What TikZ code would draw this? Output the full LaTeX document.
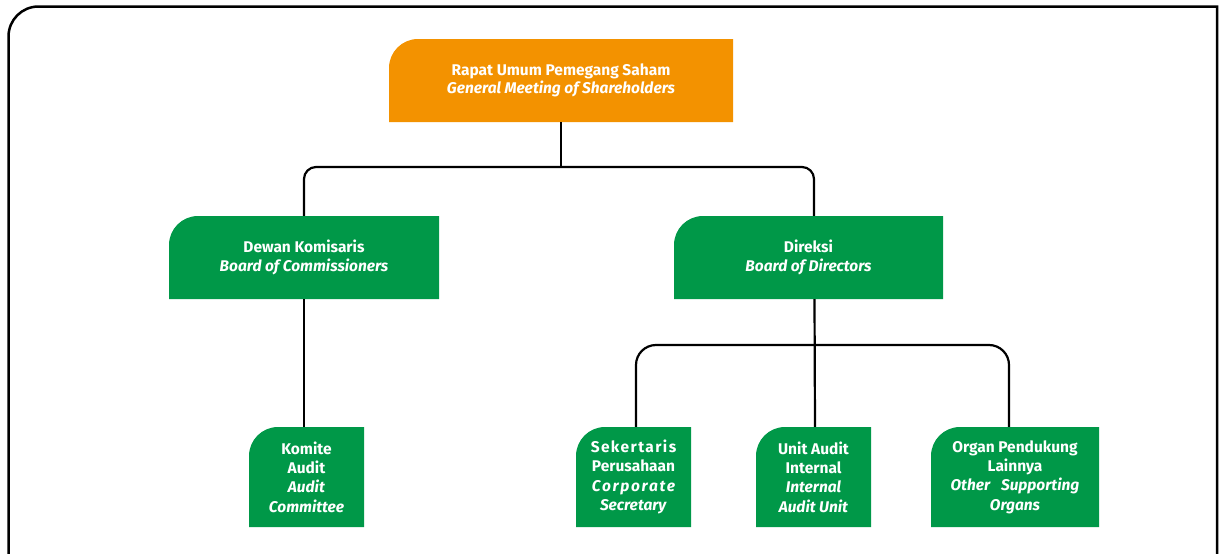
\documentclass[tikz,border=0pt]{standalone}
\usepackage{fontspec}
\setmainfont{Fira Sans}

\definecolor{rupsorange}{RGB}{243,146,0}
\definecolor{orggreen}{RGB}{0,152,72}

\tikzset{
    % fill with only the upper left corner rounded
    cornerfill/.style={path picture={
        \fill[#1] (path picture bounding box.north east)
            -- (path picture bounding box.south east)
            -- (path picture bounding box.south west) [rounded corners=29pt]
            |- (path picture bounding box.north east);}},
    orgbox/.style={inner sep=0pt, align=center, text=white,
        font=\bfseries\fontsize{15.5}{18.5}\selectfont},
    gmsbox/.style={orgbox, cornerfill=rupsorange, minimum height=83pt},
    boardbox/.style={orgbox, cornerfill=orggreen, minimum height=83pt},
    unitbox/.style={orgbox, cornerfill=orggreen, minimum height=100pt,
        font=\bfseries\fontsize{15.5}{19.3}\selectfont},
    link/.style={line width=2.2pt, black},
}

\begin{document}
\begin{tikzpicture}[x=1pt, y=-1pt]
    \useasboundingbox (0,0) rectangle (1219,554);

    % Bingkai
    \draw[line width=2.5pt] (1217,554) -- (1217,6.5) [rounded corners=30pt]
        -| (8.5,554);

    % RUPS
    \node[gmsbox, minimum width=344pt] (gms) at (561,80.5)
        {Rapat Umum Pemegang Saham\\\textit{General Meeting of Shareholders}};

    % Dewan Komisaris dan Direksi
    \node[boardbox, minimum width=270pt] (boc) at (304,257.5)
        {Dewan Komisaris\\\textit{Board of Commissioners}};
    \node[boardbox, minimum width=269pt] (bod) at (808.5,257.5)
        {Direksi\\\textit{Board of Directors}};

    % Komite dan unit
    \node[unitbox, minimum width=115pt] (ac) at (306.5,477)
        {Komite\\Audit\\\textit{Audit}\\\textit{Committee}};
    \node[unitbox, minimum width=115pt] (cs) at (633.5,477)
        {{\addfontfeature{LetterSpace=9}Sekertaris}\\Perusahaan\\
         {\itshape\addfontfeature{LetterSpace=11}Corporate}\\\textit{Secretary}};
    \node[unitbox, minimum width=115pt] (iau) at (813.5,477)
        {Unit Audit\\Internal\\\textit{Internal}\\\textit{Audit Unit}};
    \node[unitbox, minimum width=168pt] (oso) at (1015,477)
        {Organ Pendukung\\Lainnya\\\textit{Other\hspace{0.7em}Supporting}\\\textit{Organs}};

    % Garis
    \coordinate (bus1) at (562,167);
    \coordinate (bus2) at (815,345);
    \draw[link] (gms.south) -- (gms.south |- bus1);
    \draw[link, rounded corners=12pt] (boc.north) |- (bus1) -| ([xshift=5.5pt]bod.north);
    \draw[link] (boc.south) -- (boc.south |- ac.north);
    \draw[link] ([xshift=6pt]bod.south) -- ([xshift=1.5pt]iau.north);
    \draw[link, rounded corners=20pt] ([xshift=2.5pt]cs.north) |- (bus2)
        -| ([xshift=-6pt]oso.north);
\end{tikzpicture}
\end{document}
